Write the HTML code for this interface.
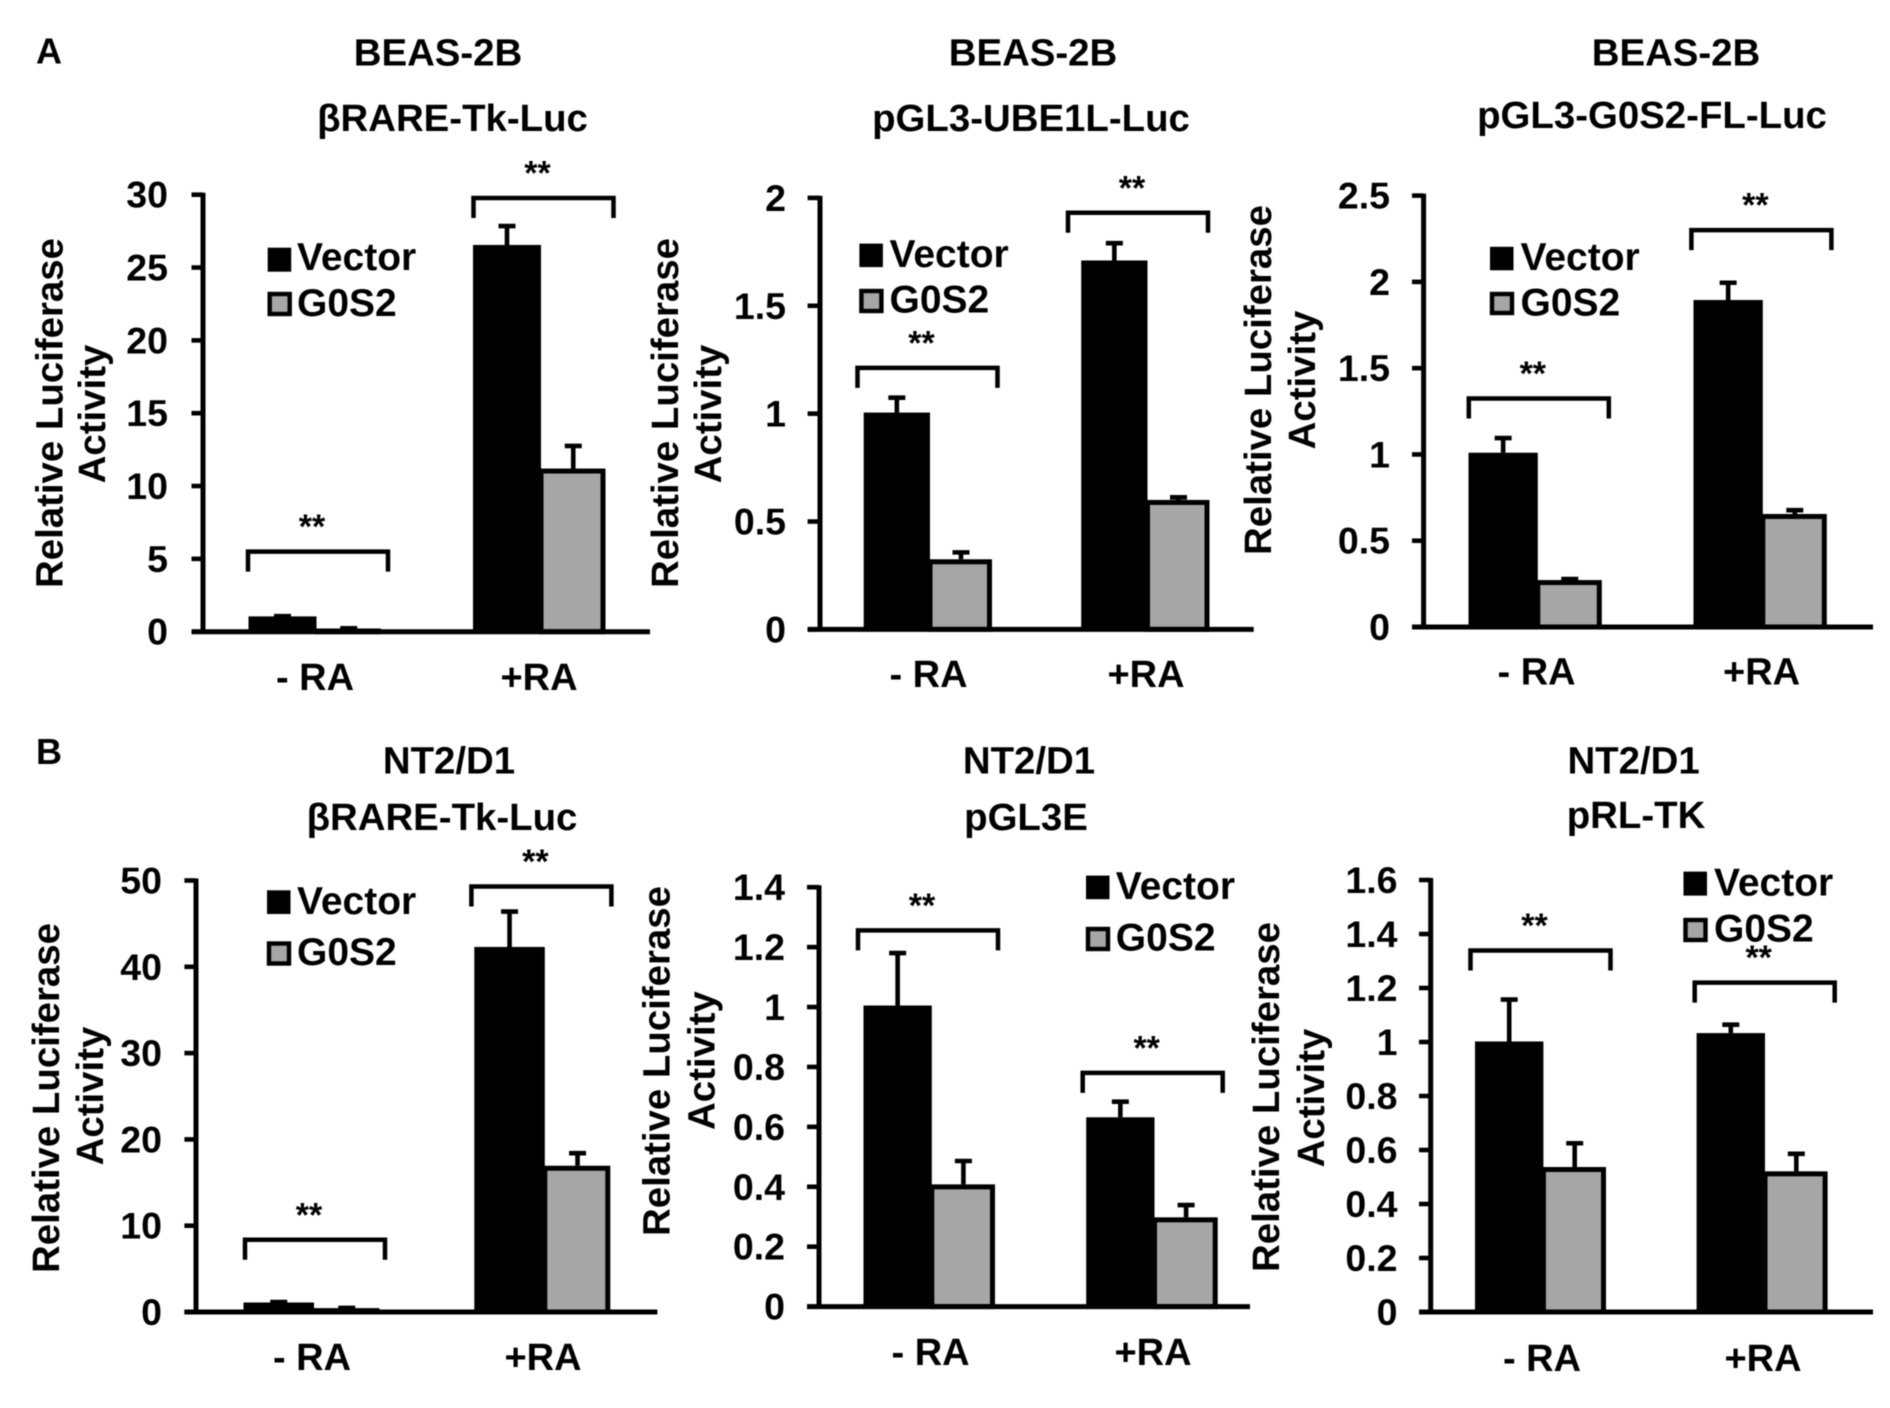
<!DOCTYPE html>
<html>
<head>
<meta charset="utf-8">
<title>Relative luciferase activity bar charts</title>
<style>
html,body{margin:0;padding:0;background:#fff;}
svg{display:block;filter:blur(0.4px);}
text{font-family:"Liberation Sans",sans-serif;font-weight:bold;fill:#000;}
.t{font-size:38.4px;}
.l{font-size:39px;}
.y{font-size:38.4px;text-anchor:middle;}
.c{text-anchor:middle;}
</style>
</head>
<body>
<svg id="figure" width="1890" height="1408" viewBox="0 0 1890 1408" xmlns="http://www.w3.org/2000/svg">
<rect width="1890" height="1408" fill="#fff"/>
<text x="36" y="63.5" font-size="36">A</text>
<text x="36" y="764" font-size="36">B</text>

<g id="p0">
<text class="t c" x="438" y="65.7">BEAS-2B</text>
<text class="t c" x="452.5" y="131">βRARE-Tk-Luc</text>
<text class="y" transform="translate(62.5,413) rotate(-90)">Relative Luciferase</text>
<text class="y" transform="translate(105,414) rotate(-90)">Activity</text>
<rect x="267.7" y="247.7" width="23.5" height="24" fill="#000"/>
<rect x="269.7" y="294" width="20" height="20" fill="#a6a6a6" stroke="#000" stroke-width="4.4"/>
<text class="l" x="297" y="270">Vector</text>
<text class="l" x="297" y="316">G0S2</text>
</g>

<g id="p1">
<text class="t c" x="1033" y="65.7">BEAS-2B</text>
<text class="t c" x="1031" y="131">pGL3-UBE1L-Luc</text>
<text class="y" transform="translate(678,413) rotate(-90)">Relative Luciferase</text>
<text class="y" transform="translate(721,414) rotate(-90)">Activity</text>
<rect x="859.4" y="243.6" width="23.5" height="23.5" fill="#000"/>
<rect x="861.4" y="291" width="20" height="20" fill="#a6a6a6" stroke="#000" stroke-width="4.4"/>
<text class="l" x="889.5" y="267">Vector</text>
<text class="l" x="889.5" y="312.4">G0S2</text>
</g>

<g id="p2">
<text class="t c" x="1676" y="65.7">BEAS-2B</text>
<text class="t c" x="1652" y="128">pGL3-G0S2-FL-Luc</text>
<text class="y" transform="translate(1271,380) rotate(-90)">Relative Luciferase</text>
<text class="y" transform="translate(1315,380) rotate(-90)">Activity</text>
<rect x="1490" y="246.8" width="23.5" height="23.5" fill="#000"/>
<rect x="1492" y="294" width="20" height="19" fill="#a6a6a6" stroke="#000" stroke-width="4.4"/>
<text class="l" x="1520.5" y="270">Vector</text>
<text class="l" x="1520.5" y="315.6">G0S2</text>
</g>

<g id="p3">
<text class="t c" x="449" y="773.7">NT2/D1</text>
<text class="t c" x="442" y="830">βRARE-Tk-Luc</text>
<text class="y" transform="translate(59,1098) rotate(-90)">Relative Luciferase</text>
<text class="y" transform="translate(103,1096) rotate(-90)">Activity</text>
<rect x="267" y="890.3" width="23.5" height="23.7" fill="#000"/>
<rect x="269" y="943.5" width="20" height="20" fill="#a6a6a6" stroke="#000" stroke-width="4.4"/>
<text class="l" x="297" y="914">Vector</text>
<text class="l" x="297" y="965">G0S2</text>
</g>

<g id="p4">
<text class="t c" x="1029" y="773.7">NT2/D1</text>
<text class="t c" x="1026" y="830">pGL3E</text>
<text class="y" transform="translate(669.5,1061) rotate(-90)">Relative Luciferase</text>
<text class="y" transform="translate(714.5,1060.6) rotate(-90)">Activity</text>
<rect x="1086" y="875.6" width="23.5" height="23.6" fill="#000"/>
<rect x="1088" y="929" width="20" height="20" fill="#a6a6a6" stroke="#000" stroke-width="4.4"/>
<text class="l" x="1115.8" y="899">Vector</text>
<text class="l" x="1115.8" y="950.4">G0S2</text>
</g>

<g id="p5">
<text class="t c" x="1633.6" y="773.7">NT2/D1</text>
<text class="t c" x="1636" y="828">pRL-TK</text>
<text class="y" transform="translate(1279,1097) rotate(-90)">Relative Luciferase</text>
<text class="y" transform="translate(1324,1098) rotate(-90)">Activity</text>
<rect x="1683.5" y="871.6" width="23.5" height="24" fill="#000"/>
<rect x="1685.5" y="920" width="20" height="20" fill="#a6a6a6" stroke="#000" stroke-width="4.4"/>
<text class="l" x="1714" y="895.6">Vector</text>
<text class="l" x="1714" y="941.5">G0S2</text>
</g>
</svg>

<script>
// Shared categories
const categories = ['- RA', '+RA'];

// Panel A, BEAS-2B, bRARE-Tk-Luc
const a1Ticks = ['0', '5', '10', '15', '20', '25', '30'];
const a1Vector = [1.05, 26.55];
const a1G0S2 = [0.22, 11.2];
const a1VectorErr = [0.02, 1.3];
const a1G0S2Err = [0.01, 1.55];
const a1Brackets = [5.5, 29.77];

// Panel A, BEAS-2B, pGL3-UBE1L-Luc
const a2Ticks = ['0', '0.5', '1', '1.5', '2'];
const a2Vector = [1.005, 1.71];
const a2G0S2 = [0.325, 0.6];
const a2VectorErr = [0.069, 0.08];
const a2G0S2Err = [0.032, 0.012];
const a2Brackets = [1.212, 1.931];

// Panel A, BEAS-2B, pGL3-G0S2-FL-Luc
const a3Ticks = ['0', '0.5', '1', '1.5', '2', '2.5'];
const a3Vector = [1.01, 1.895];
const a3G0S2 = [0.272, 0.655];
const a3VectorErr = [0.085, 0.1];
const a3G0S2Err = [0.006, 0.022];
const a3Brackets = [1.324, 2.3];

// Panel B, NT2/D1, bRARE-Tk-Luc
const b1Ticks = ['0', '10', '20', '30', '40', '50'];
const b1Vector = [1.1, 42.3];
const b1G0S2 = [0.45, 16.95];
const b1VectorErr = [0.05, 4.1];
const b1G0S2Err = [0.02, 1.45];
const b1Brackets = [8.37, 49.3];

// Panel B, NT2/D1, pGL3E
const b2Ticks = ['0', '0.2', '0.4', '0.6', '0.8', '1', '1.2', '1.4'];
const b2Vector = [1.005, 0.632];
const b2G0S2 = [0.408, 0.298];
const b2VectorErr = [0.175, 0.052];
const b2G0S2Err = [0.078, 0.041];
const b2Brackets = [1.256, 0.78];

// Panel B, NT2/D1, pRL-TK
const b3Ticks = ['0', '0.2', '0.4', '0.6', '0.8', '1', '1.2', '1.4', '1.6'];
const b3Vector = [1.002, 1.033];
const b3G0S2 = [0.537, 0.521];
const b3VectorErr = [0.155, 0.031];
const b3G0S2Err = [0.088, 0.065];
const b3Brackets = [1.339, 1.22];

const NS = 'http://www.w3.org/2000/svg';

// Layout only; all heights come from the value arrays through yScale
const panels = [
  {id:'p0', ticks:a1Ticks, vec:a1Vector, g0:a1G0S2, vecE:a1VectorErr, g0E:a1G0S2Err, br:a1Brackets,
   ax:203, top:194.7, bot:631.7, tickL:191.5, right:650, bar0:248.5, step:224.5, vw:68, gw:64.5, brL:[248,473.5],
   labR:168, cats:[315,539], catY:690},
  {id:'p1', ticks:a2Ticks, vec:a2Vector, g0:a2G0S2, vecE:a2VectorErr, g0E:a2G0S2Err, br:a2Brackets,
   ax:820, top:197.9, bot:629.4, tickL:807.6, right:1253.7, bar0:863.7, step:217.5, vw:66.3, gw:62, brL:[857.5,1068],
   labR:786, cats:[928.5,1146], catY:687},
  {id:'p2', ticks:a3Ticks, vec:a3Vector, g0:a3G0S2, vecE:a3VectorErr, g0E:a3G0S2Err, br:a3Brackets,
   ax:1423.6, top:195.6, bot:627, tickL:1412, right:1873, bar0:1468.5, step:225, vw:69.3, gw:64, brL:[1468.8,1691.4],
   labR:1390, cats:[1536.6,1761.6], catY:684.6},
  {id:'p3', ticks:b1Ticks, vec:b1Vector, g0:b1G0S2, vecE:b1VectorErr, g0E:b1G0S2Err, br:b1Brackets,
   ax:196, top:880.5, bot:1312, tickL:184.4, right:657.4, bar0:243.5, step:230.8, vw:70.5, gw:65.5, brL:[245,471.4],
   labR:162, cats:[312,543], catY:1370},
  {id:'p4', ticks:b2Ticks, vec:b2Vector, g0:b2G0S2, vecE:b2VectorErr, g0E:b2G0S2Err, br:b2Brackets,
   ax:819, top:887.2, bot:1306.6, tickL:807, right:1250, bar0:863.5, step:222.7, vw:68.3, gw:63.2, brL:[858,1082.7],
   labR:785, cats:[930.6,1153], catY:1365},
  {id:'p5', ticks:b3Ticks, vec:b3Vector, g0:b3G0S2, vecE:b3VectorErr, g0E:b3G0S2Err, br:b3Brackets,
   ax:1430.7, top:880, bot:1312, tickL:1419, right:1873, bar0:1475, step:221.6, vw:68.4, gw:62.6, brL:[1470.5,1694.7],
   labR:1397.5, cats:[1542,1763], catY:1371}
];

function mk(parent, tag, attrs, text) {
  const el = document.createElementNS(NS, tag);
  for (const k in attrs) el.setAttribute(k, attrs[k]);
  if (text !== undefined) el.textContent = text;
  parent.appendChild(el);
  return el;
}

panels.forEach(function (p) {
  const g = document.getElementById(p.id);
  const maxV = parseFloat(p.ticks[p.ticks.length - 1]);
  const yScale = function (v) { return p.bot - (v / maxV) * (p.bot - p.top); };
  const xVector = function (i) { return p.bar0 + i * p.step; };
  const xG0S2 = function (i) { return xVector(i) + p.vw; };

  categories.forEach(function (cat, i) {
    // Error bars
    const vx = xVector(i) + p.vw / 2;
    const vt = yScale(p.vec[i] + p.vecE[i]);
    const ve = mk(g, 'path', {d:'M' + vx + ' ' + yScale(p.vec[i]) + 'V' + vt + 'M' + (vx - 8.5) + ' ' + vt + 'H' + (vx + 8.5), stroke:'#000', 'stroke-width':4.6, fill:'none'});
    
    

    const gx = xG0S2(i) + p.gw / 2;
    const gt = yScale(p.g0[i] + p.g0E[i]);
    const ge = mk(g, 'path', {d:'M' + gx + ' ' + yScale(p.g0[i]) + 'V' + gt + 'M' + (gx - 8.5) + ' ' + gt + 'H' + (gx + 8.5), stroke:'#000', 'stroke-width':4.6, fill:'none'});
    
    

    // Bars
    const vb = mk(g, 'rect', {x:xVector(i), y:yScale(p.vec[i]), width:p.vw, height:p.bot - yScale(p.vec[i]), fill:'#000'});
    
    

    const gb = mk(g, 'rect', {x:xG0S2(i), y:yScale(p.g0[i]) + 2.5, width:p.gw - 2.5, height:p.bot - yScale(p.g0[i]) - 2.5, fill:'#a6a6a6', stroke:'#000', 'stroke-width':5});
    
    

    // Significance bracket
    const by = yScale(p.br[i]);
    const bl = p.brL[i];
    const br = mk(g, 'path', {d:'M' + bl + ' ' + (by + 20) + 'V' + by + 'H' + (bl + 140) + 'V' + (by + 20), stroke:'#000', 'stroke-width':4.5, fill:'none'});
    
    

    const st = mk(g, 'text', {x:bl + 64, y:by - 13.5, 'font-size':34, 'text-anchor':'middle'}, '**');
    
    

    // Category label
    const cl = mk(g, 'text', {x:p.cats[i], y:p.catY, 'font-size':38, 'text-anchor':'middle'}, cat);
    
    
  });

  // Axes
  const ya = mk(g, 'line', {x1:p.ax, x2:p.ax, y1:p.top - 2, y2:p.bot + 2, stroke:'#000', 'stroke-width':5});
  
  

  const xa = mk(g, 'line', {x1:p.tickL, x2:p.right, y1:p.bot, y2:p.bot, stroke:'#000', 'stroke-width':5});
  
  

  p.ticks.forEach(function (t) {
    const v = parseFloat(t);
    const ty = yScale(v);
    const tk = mk(g, 'line', {x1:p.tickL, x2:p.ax, y1:ty, y2:ty, stroke:'#000', 'stroke-width':4.6});
    
    

    const tl = mk(g, 'text', {x:p.labR, y:ty + 13, 'font-size':37.5, 'text-anchor':'end'}, t);
    
    
  });
});
</script>
</body>
</html>
